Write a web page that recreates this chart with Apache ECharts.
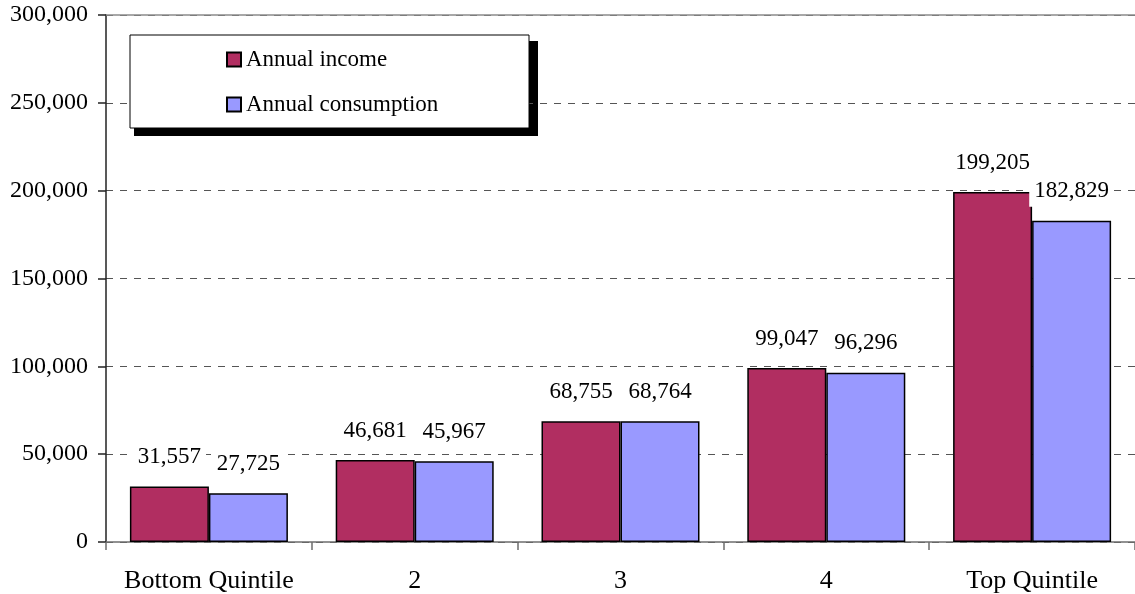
<!DOCTYPE html>
<html>
<head>
<meta charset="utf-8">
<script src="https://cdn.jsdelivr.net/npm/echarts@6/dist/echarts.min.js"></script>
<style>
  html, body { margin: 0; padding: 0; background: #fff; }
  #chart { width: 1135px; height: 594px; }
</style>
</head>
<body>
<div id="chart"></div>
<script>
// quintile data
var categories = ['Bottom Quintile', '2', '3', '4', 'Top Quintile'];
var incomeValues = [31557, 46681, 68755, 99047, 199205];
var consumptionValues = [27725, 45967, 68764, 96296, 182829];
var yTicks = { min: 0, max: 300000, interval: 50000 };

var serifFont = '"Liberation Serif", "Times New Roman", serif';

function fmt(v) {
    return String(v).replace(/\B(?=(\d{3})+(?!\d))/g, ',');
}

var barLabel = {
    show: true,
    position: 'top',
    distance: 14,
    color: '#000',
    fontFamily: serifFont,
    fontSize: 23,
    backgroundColor: '#fff',
    padding: [4, 5],
    formatter: function (p) { return fmt(p.value); }
};

var chart = echarts.init(document.getElementById('chart'));
chart.setOption({
    animation: false,
    backgroundColor: '#fff',
    grid: { left: 106, top: 15, width: 1034, bottom: 52, containLabel: false },
    // legend box with hard shadow
    graphic: [
        { type: 'rect', z: 0, shape: { x: 134, y: 41, width: 404, height: 95 }, style: { fill: '#000' } },
        { type: 'rect', z: 1, shape: { x: 130, y: 35, width: 399, height: 93 }, style: { fill: '#fff', stroke: '#000', lineWidth: 1 } }
    ],
    legend: {
        orient: 'vertical',
        left: 221,
        top: 43,
        icon: 'rect',
        itemWidth: 14,
        itemHeight: 14,
        itemGap: 22,
        textStyle: { fontFamily: serifFont, fontSize: 23, color: '#000', lineHeight: 22 },
        data: ['Annual income', 'Annual consumption']
    },
    xAxis: [{
        type: 'category',
        data: categories,
        axisLine: { lineStyle: { color: '#6e6e6e', width: 1.5 } },
        axisTick: { show: true, interval: 0, length: 8, lineStyle: { color: '#6e6e6e', width: 1.5 } },
        axisLabel: { interval: 0, color: '#000', fontFamily: serifFont, fontSize: 26, margin: 26 }
    }, {
        type: 'category',
        position: 'top',
        data: categories,
        axisLine: { lineStyle: { color: '#8c8c8c', width: 1.5 } },
        axisTick: { show: false },
        axisLabel: { show: false }
    }],
    yAxis: {
        type: 'value',
        min: yTicks.min,
        max: yTicks.max,
        interval: yTicks.interval,
        axisLine: { show: true, lineStyle: { color: '#222', width: 1.5 } },
        axisTick: { show: true, length: 8, lineStyle: { color: '#222', width: 1.5 } },
        axisLabel: { color: '#000', fontFamily: serifFont, fontSize: 24, margin: 18, formatter: fmt },
        splitLine: { show: true, lineStyle: { color: '#555', type: [7, 7], width: 1 } }
    },
    series: [{
        name: 'Annual income',
        type: 'bar',
        data: incomeValues,
        barWidth: 79,
        barGap: '0%',
        itemStyle: { color: '#B12E61', borderColor: '#000', borderWidth: 1.5 },
        label: barLabel
    }, {
        name: 'Annual consumption',
        type: 'bar',
        data: consumptionValues,
        barWidth: 79,
        barGap: '0%',
        itemStyle: { color: '#9999FF', borderColor: '#000', borderWidth: 1.5 },
        label: barLabel
    }]
});
</script>
</body>
</html>
